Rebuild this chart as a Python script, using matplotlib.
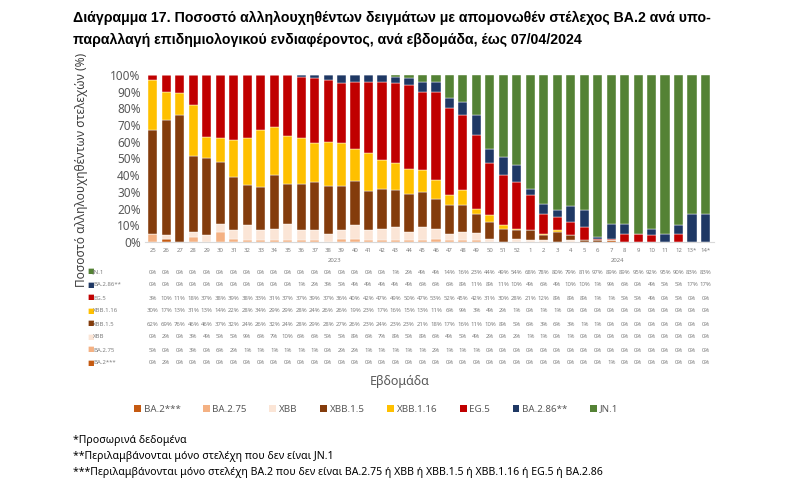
import matplotlib
matplotlib.use('Agg')
import matplotlib.pyplot as plt
import matplotlib.transforms as mtransforms
from matplotlib.patches import Patch
import numpy as np

plt.rcParams['font.family'] = ['Noto Sans', 'DejaVu Sans']

weeks = [str(w) for w in range(25, 53)] + [str(w) for w in range(1, 13)] + ['13*', '14*']

ba2 = [0, 2] + [0] * 32 + [1] + [0] * 7
ba275 = [5, 0, 0, 3, 0, 6, 2, 1, 1, 1, 1, 1, 1, 0, 2, 2, 1, 1, 1, 1, 1, 2, 1, 1, 1, 0, 0, 0] + [0] * 14
xbb = [0, 2, 0, 3, 4, 5, 5, 9, 6, 7, 10, 6, 6, 5, 5, 8, 6, 7, 8, 5, 8, 6, 4, 5, 4, 2, 0, 2,
       1, 1, 0, 1] + [0] * 10
xbb15 = [62, 69, 76, 46, 46, 37, 32, 24, 26, 32, 24, 28, 29, 28, 27, 26, 23, 24, 23, 23, 21, 18, 17, 16, 11, 10, 8, 5,
         6, 3, 6, 3, 1, 1] + [0] * 8
xbb116 = [30, 17, 13, 31, 13, 14, 22, 28, 34, 29, 29, 28, 24, 26, 26, 19, 23, 17, 16, 15, 13, 11, 6, 9, 3, 4, 2, 1,
          0, 1, 1, 0] + [0] * 10
eg5 = [3, 10, 11, 18, 37, 38, 39, 38, 33, 31, 37, 37, 39, 37, 36, 40, 42, 47, 49, 50, 47, 53, 52, 45, 42, 31, 30, 28,
       21, 12, 8, 8, 8, 1, 1, 5, 5, 4, 0, 5, 0, 0]
ba286 = [0] * 11 + [1, 2, 3, 5, 4, 4, 4, 4, 4, 6, 6, 6, 8, 11, 8, 11, 10,
                    4, 6, 4, 10, 10, 1, 9, 6, 0, 4, 5, 5, 17, 17]
jn1 = [0] * 18 + [1, 2, 4, 4, 14, 16, 23, 44, 49, 54,
                  68, 78, 80, 79, 81, 97, 89, 89, 95, 92, 95, 90, 83, 83]

names = ['BA.2***', 'BA.2.75', 'XBB', 'XBB.1.5', 'XBB.1.16', 'EG.5', 'BA.2.86**', 'JN.1']
series = [ba2, ba275, xbb, xbb15, xbb116, eg5, ba286, jn1]
colors = ['#C55A11', '#F4B183', '#FBE5D6', '#843C0C', '#FFC000', '#C00000', '#1F3864', '#548235']

data = np.array(series, dtype=float)
pct = data / data.sum(axis=0) * 100

fig = plt.figure(figsize=(8, 4.93), dpi=100)
ax = fig.add_axes([0.181, 0.509, 0.711, 0.339])

x = np.arange(len(weeks))
bottom = np.zeros(len(weeks))
for vals, c in zip(pct, colors):
    ax.bar(x, vals, bottom=bottom, width=0.68, color=c, edgecolor='white', linewidth=0.3)
    bottom += vals

ax.set_xlim(-0.6, len(weeks) - 0.4)
ax.set_ylim(0, 100)
ax.set_yticks(range(0, 101, 10))
ax.set_yticklabels([f'{v}%' for v in range(0, 101, 10)], fontsize=8.5, color='#595959')
ax.set_xticks([])
for s in ['top', 'right', 'left']:
    ax.spines[s].set_visible(False)
ax.spines['bottom'].set_color('#d9d9d9')
ax.tick_params(axis='y', length=0, pad=3)

ax.set_ylabel('Ποσοστό αλληλουχηθέντων στελεχών (%)', fontsize=8.6, color='#404040')
ax.yaxis.set_label_coords(-0.1, 0.43)

trans = mtransforms.blended_transform_factory(ax.transData, fig.transFigure)

def fy(py):
    return 1 - py / 493

for i, w in enumerate(weeks):
    fig.text(i, fy(250), w, transform=trans, ha='center', va='center', fontsize=4.3, color='#7f7f7f')
fig.text(13.5, fy(261), '2023', transform=trans, ha='center', va='center', fontsize=4.3, color='#7f7f7f')
fig.text(34.5, fy(261), '2024', transform=trans, ha='center', va='center', fontsize=4.3, color='#7f7f7f')

row_y = [272, 285, 298, 311, 324, 337, 350, 363]
table_order = list(range(len(names)))[::-1]
for ry, k in zip(row_y, table_order):
    fig.text(87 / 800, fy(ry), '\u25A0', ha='left', va='center', fontsize=5, color=colors[k])
    fig.text(93 / 800, fy(ry), names[k], ha='left', va='center', fontsize=4.3, color='#7f7f7f')
    for i, v in enumerate(series[k]):
        fig.text(i, fy(ry), f'{v}%', transform=trans, ha='center', va='center', fontsize=4.3, color='#7f7f7f')

fig.text(0.5, fy(381), 'Εβδομάδα', ha='center', va='center', fontsize=9, color='#595959')

handles = [Patch(facecolor=c, edgecolor='none') for c in colors]
fig.legend(handles, names, loc='center', bbox_to_anchor=(0.47, fy(409)), ncol=8, frameon=False,
           fontsize=7, handlelength=0.7, handleheight=0.7, handletextpad=0.3, columnspacing=2.3,
           labelcolor='#595959')

title_font = ['Liberation Sans', 'DejaVu Sans']
fig.text(73 / 800, fy(18), 'Διάγραμμα 17. Ποσοστό αλληλουχηθέντων δειγμάτων με απομονωθέν στέλεχος BA.2 ανά υπο-',
         ha='left', va='center', fontsize=10.2, fontweight='bold', color='black', family=title_font)
fig.text(73 / 800, fy(40), 'παραλλαγή επιδημιολογικού ενδιαφέροντος, ανά εβδομάδα, έως 07/04/2024',
         ha='left', va='center', fontsize=10.2, fontweight='bold', color='black', family=title_font)

notes = ['*Προσωρινά δεδομένα',
         '**Περιλαμβάνονται μόνο στελέχη που δεν είναι JN.1',
         '***Περιλαμβάνονται μόνο στελέχη BA.2 που δεν είναι BA.2.75 ή XBB ή XBB.1.5 ή XBB.1.16 ή EG.5 ή BA.2.86']
for py, t in zip([441, 457, 473], notes):
    fig.text(73 / 800, fy(py), t, ha='left', va='center', fontsize=7.6, color='black')

fig.savefig('out.png', dpi=100)
